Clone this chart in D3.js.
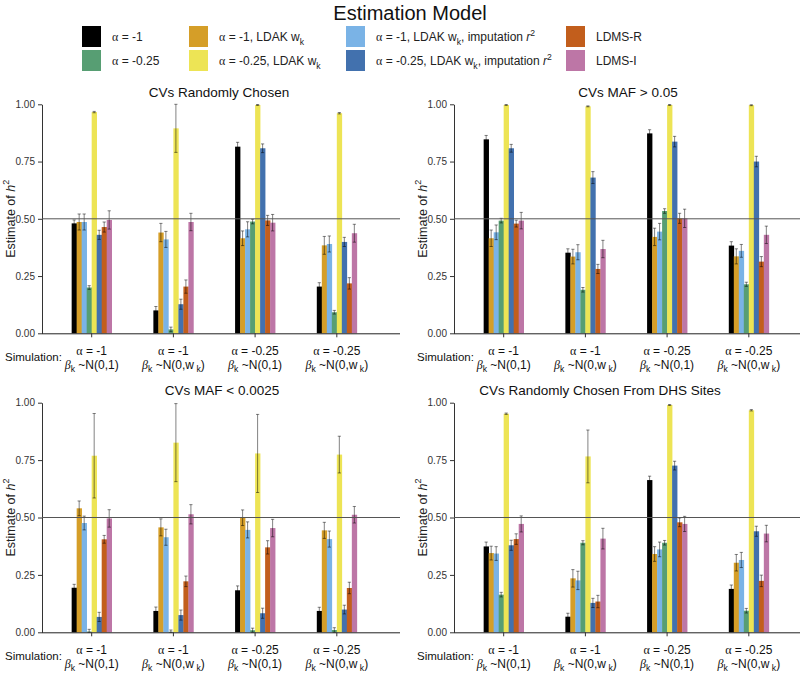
<!DOCTYPE html>
<html><head><meta charset="utf-8">
<script src="https://cdn.jsdelivr.net/npm/d3@7"></script>
<style>
html,body{margin:0;padding:0;background:#fff;}
svg{display:block;font-family:"Liberation Sans",Arial,Helvetica,sans-serif;}
</style></head>
<body>
<svg id="chart" width="800" height="674"></svg>
<script>
// ---------- DATA ----------
const models = [
  "α = -1",
  "α = -1, LDAK w{_k}",
  "α = -1, LDAK w{_k}, imputation {i:r}{^2}",
  "α = -0.25",
  "α = -0.25, LDAK w{_k}",
  "α = -0.25, LDAK w{_k}, imputation {i:r}{^2}",
  "LDMS-R",
  "LDMS-I"
];
const modelColors = ["#000000","#D59E28","#7AB3E6","#579E73","#EDE455","#4271AE","#C25E1C","#BD76A6"];
const simIds = ["s1","s2","s3","s4"];
const simAlpha = ["α = -1","α = -1","α = -0.25","α = -0.25"];
const simBeta = ["{i:β}{_k} ~N(0,1)","{i:β}{_k} ~N(0,w{_ k})","{i:β}{_k} ~N(0,1)","{i:β}{_k} ~N(0,w{_ k})"];
const yTicks = [0, 0.25, 0.5, 0.75, 1];
const trueH2 = 0.5;
const panelTitles = ["CVs Randomly Chosen","CVs MAF > 0.05","CVs MAF < 0.0025","CVs Randomly Chosen From DHS Sites"];

const randomMeans = [
  [0.480,0.486,0.486,0.200,0.966,0.430,0.464,0.495],
  [0.100,0.440,0.410,0.017,0.895,0.127,0.204,0.486],
  [0.815,0.415,0.454,0.488,0.997,0.808,0.493,0.483],
  [0.204,0.384,0.390,0.092,0.961,0.399,0.218,0.437]];
const randomErrs = [
  [0.015,0.035,0.035,0.008,0.003,0.020,0.022,0.040],
  [0.017,0.040,0.035,0.010,0.105,0.022,0.029,0.038],
  [0.019,0.032,0.033,0.010,0.002,0.019,0.022,0.036],
  [0.017,0.039,0.035,0.008,0.003,0.020,0.025,0.039]];
const maf05Means = [
  [0.847,0.415,0.441,0.492,0.997,0.808,0.479,0.492],
  [0.352,0.335,0.354,0.190,0.991,0.680,0.281,0.368],
  [0.873,0.421,0.444,0.534,0.997,0.837,0.502,0.502],
  [0.383,0.336,0.360,0.214,0.996,0.750,0.313,0.430]];
const maf05Errs = [
  [0.017,0.036,0.032,0.010,0.002,0.017,0.015,0.036],
  [0.017,0.032,0.033,0.010,0.002,0.026,0.020,0.038],
  [0.016,0.038,0.036,0.010,0.002,0.023,0.022,0.040],
  [0.017,0.033,0.028,0.009,0.002,0.023,0.022,0.038]];
const maf0025Means = [
  [0.194,0.540,0.476,0.003,0.769,0.067,0.405,0.496],
  [0.093,0.457,0.414,0.002,0.826,0.075,0.222,0.514],
  [0.183,0.499,0.446,0.009,0.779,0.083,0.370,0.454],
  [0.093,0.444,0.406,0.010,0.774,0.099,0.193,0.512]];
const maf0025Errs = [
  [0.015,0.032,0.030,0.010,0.184,0.020,0.017,0.038],
  [0.017,0.037,0.035,0.008,0.170,0.022,0.023,0.042],
  [0.019,0.034,0.035,0.009,0.170,0.022,0.029,0.038],
  [0.016,0.035,0.035,0.010,0.080,0.019,0.025,0.036]];
const dhsMeans = [
  [0.374,0.345,0.343,0.164,0.952,0.379,0.406,0.472],
  [0.068,0.235,0.226,0.390,0.766,0.128,0.134,0.408],
  [0.663,0.341,0.361,0.390,0.990,0.726,0.479,0.472],
  [0.189,0.303,0.315,0.094,0.967,0.440,0.224,0.430]];
const dhsErrs = [
  [0.019,0.030,0.030,0.010,0.003,0.022,0.023,0.035],
  [0.015,0.038,0.040,0.009,0.115,0.020,0.027,0.045],
  [0.017,0.032,0.032,0.010,0.002,0.019,0.019,0.033],
  [0.017,0.036,0.033,0.010,0.003,0.022,0.025,0.036]];

// ---------- LAYOUT ----------
const svg = d3.select("#chart");
const panelLayout = [
  {ox:0,   top:104.3, bottom:333.3, right:400, titleX:219},
  {ox:412, top:104.3, bottom:333.3, right:800, titleX:628},
  {ox:0,   top:402.7, bottom:632.3, right:400, titleX:222},
  {ox:412, top:402.7, bottom:632.3, right:800, titleX:600}
];
const panelMeans = [randomMeans, maf05Means, maf0025Means, dhsMeans];
const panelErrs = [randomErrs, maf05Errs, maf0025Errs, dhsErrs];

// rich text helper: {_x} subscript, {^x} superscript, {i:x} italic, Greek letters in serif
function rich(sel, str, baseSize) {
  const re = /\{(_|\^|i:)([^}]*)\}/g;
  let last = 0, m, segs = [];
  while ((m = re.exec(str)) !== null) {
    if (m.index > last) segs.push({t: str.slice(last, m.index), k: "n"});
    segs.push({t: m[2], k: m[1] === "_" ? "sub" : m[1] === "^" ? "sup" : "it"});
    last = re.lastIndex;
  }
  if (last < str.length) segs.push({t: str.slice(last), k: "n"});
  let shift = 0;
  segs.forEach(s => {
    // split out greek letters
    const parts = s.t.split(/([αβ])/).filter(p => p.length);
    parts.forEach((p, pi) => {
      const ts = sel.append("tspan").text(p);
      let target = 0;
      if (s.k === "sub") { target = baseSize * 0.3; ts.attr("font-size", baseSize * 0.72); }
      if (s.k === "sup") { target = -baseSize * 0.42; ts.attr("font-size", baseSize * 0.72); }
      if (s.k === "it") ts.attr("font-style", "italic");
      if (/[αβ]/.test(p)) ts.attr("font-family", "'Liberation Serif','DejaVu Serif',serif");
      if (target !== shift) { ts.attr("dy", target - shift); shift = target; }
    });
  });
  return sel;
}

// ---------- LEGEND ----------
svg.append("text").attr("x", 410).attr("y", 20).attr("text-anchor", "middle")
  .attr("font-size", 20).attr("fill", "#111").text("Estimation Model");
const legendCell = [[0,0],[1,0],[2,0],[0,1],[1,1],[2,1],[3,0],[3,1]];
const legendColX = [82, 189, 346, 566];
const legendRowY = [36.5, 60.5];
models.forEach((label, i) => {
  const [c, r] = legendCell[i];
  const g = svg.append("g").attr("transform", `translate(${legendColX[c]},${legendRowY[r]})`);
  g.append("rect").attr("x", 0).attr("y", -10.5).attr("width", 19).attr("height", 21).attr("fill", modelColors[i]);
  const t = g.append("text").attr("x", 30).attr("y", 4.5).attr("font-size", 12).attr("fill", "#222");
  rich(t, label, 12);
});

// ---------- PANELS ----------
panelLayout.forEach((L, p) => {
  const means = panelMeans[p], errs = panelErrs[p];
  const x0 = 42 + L.ox, x1 = 386.5 + L.ox;
  const x = d3.scaleBand().domain(simIds).range([x0, x1]).paddingInner(0.51).paddingOuter(0.363);
  const xi = d3.scaleBand().domain(d3.range(models.length)).range([0, x.bandwidth()]).padding(0);
  const y = d3.scaleLinear().domain([0, 1]).range([L.bottom, L.top]);
  const g = svg.append("g");

  // title
  g.append("text").attr("x", L.titleX).attr("y", L.top - 7.5).attr("text-anchor", "middle")
    .attr("font-size", 13.5).attr("fill", "#111").text(panelTitles[p]);

  // y axis
  const ya = g.append("g").attr("transform", `translate(${x0},0)`)
    .call(d3.axisLeft(y).tickValues(yTicks).tickFormat(d3.format(".2f")).tickSize(4).tickSizeOuter(0).tickPadding(3));
  ya.select(".domain").attr("stroke", "#333");
  ya.selectAll(".tick line").attr("stroke", "#333");
  ya.selectAll(".tick text").attr("font-size", 10).attr("fill", "#333").attr("font-family", "'Liberation Sans',Arial,sans-serif");

  // y title
  const yt = g.append("text").attr("transform", `translate(${14.5 + L.ox},${(L.top + L.bottom) / 2}) rotate(-90)`)
    .attr("text-anchor", "middle").attr("font-size", 12.5).attr("fill", "#222");
  rich(yt, "Estimate of {i:h}{^2}", 12.5);

  // bars
  simIds.forEach((sid, si) => {
    const gg = g.append("g").attr("transform", `translate(${x(sid)},0)`);
    gg.selectAll("rect").data(means[si]).join("rect")
      .attr("x", (d, i) => xi(i)).attr("width", xi.bandwidth() + 0.3)
      .attr("y", d => y(d)).attr("height", d => y(0) - y(d))
      .attr("fill", (d, i) => modelColors[i]);
    // error bars
    const eb = gg.selectAll("g.eb").data(means[si].map((m, i) => ({m, e: errs[si][i], i}))).join("g")
      .attr("stroke", "rgba(0,0,0,0.55)").attr("stroke-width", 0.9);
    eb.append("line")
      .attr("x1", d => xi(d.i) + xi.bandwidth() / 2).attr("x2", d => xi(d.i) + xi.bandwidth() / 2)
      .attr("y1", d => y(Math.max(0, d.m - d.e))).attr("y2", d => y(Math.min(1, d.m + d.e)));
    eb.append("line")
      .attr("x1", d => xi(d.i) + xi.bandwidth() / 2 - 1.6).attr("x2", d => xi(d.i) + xi.bandwidth() / 2 + 1.6)
      .attr("y1", d => y(Math.min(1, d.m + d.e))).attr("y2", d => y(Math.min(1, d.m + d.e)));
    eb.append("line")
      .attr("x1", d => xi(d.i) + xi.bandwidth() / 2 - 1.6).attr("x2", d => xi(d.i) + xi.bandwidth() / 2 + 1.6)
      .attr("y1", d => y(Math.max(0, d.m - d.e))).attr("y2", d => y(Math.max(0, d.m - d.e)));
  });

  // reference line
  g.append("line").attr("x1", x0).attr("x2", L.right).attr("y1", y(trueH2)).attr("y2", y(trueH2))
    .attr("stroke", "#555").attr("stroke-width", 1);

  // x axis
  const xa = g.append("g").attr("transform", `translate(0,${L.bottom})`)
    .call(d3.axisBottom(x).tickSize(4).tickSizeOuter(0).tickFormat(""));
  xa.select(".domain").attr("d", `M${x0},0.5H${L.right}`).attr("stroke", "#222");
  xa.selectAll(".tick line").attr("stroke", "#333");

  // x labels
  simIds.forEach((sid, si) => {
    const cx = x(sid) + x.bandwidth() / 2;
    const a = g.append("text").attr("x", cx).attr("y", L.bottom + 22).attr("text-anchor", "middle")
      .attr("font-size", 12).attr("fill", "#111");
    rich(a, simAlpha[si], 12);
    const b = g.append("text").attr("x", cx).attr("y", L.bottom + 35.5).attr("text-anchor", "middle")
      .attr("font-size", 12).attr("fill", "#111");
    rich(b, simBeta[si], 12);
  });
  g.append("text").attr("x", 5 + L.ox).attr("y", L.bottom + 28).attr("font-size", 11.5).attr("fill", "#111")
    .text("Simulation:");
});
</script>
</body></html>
